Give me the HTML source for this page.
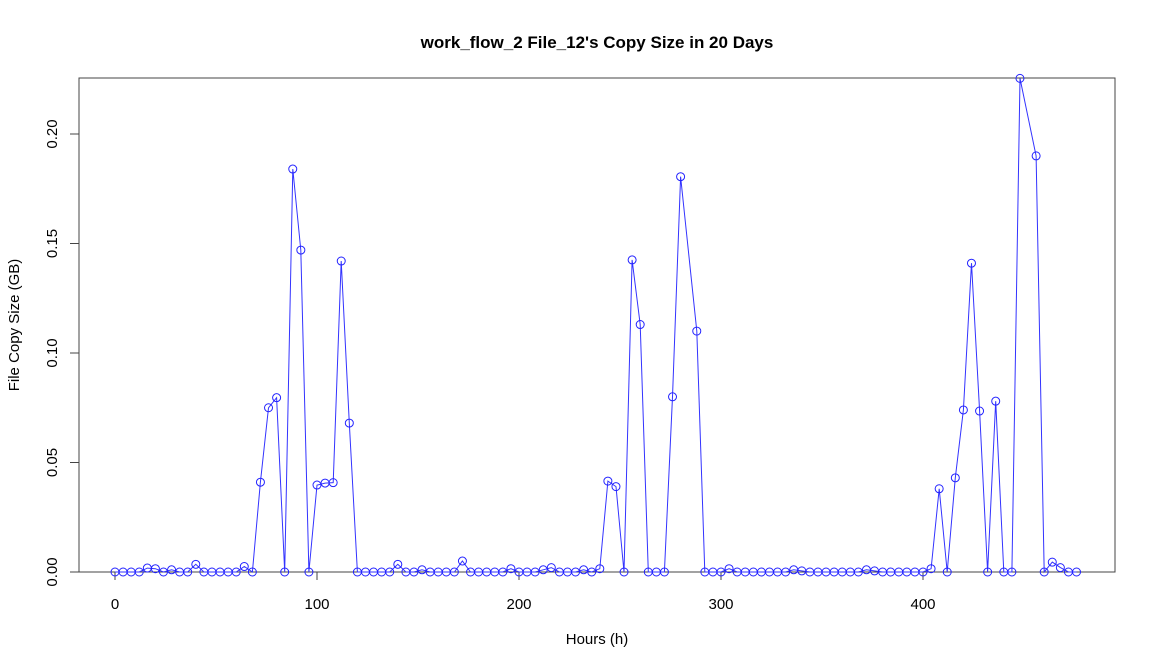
<!DOCTYPE html>
<html><head><meta charset="utf-8"><style>
body{margin:0;background:#fff}
svg{display:block;font-family:"Liberation Sans",Arial,sans-serif}
</style></head><body>
<svg id="chart" width="1156" height="670" xmlns="http://www.w3.org/2000/svg">
<text x="597" y="48" text-anchor="middle" font-size="17" font-weight="bold">work_flow_2 File_12's Copy Size in 20 Days</text>
<rect x="79" y="78" width="1036" height="494" fill="none" stroke="#444" stroke-width="1"/>
<text x="597" y="644" text-anchor="middle" font-size="15">Hours (h)</text>
<text transform="translate(19,325) rotate(-90)" text-anchor="middle" font-size="15">File Copy Size (GB)</text>
<g id="axes"></g>
<g id="series"></g>
</svg>
<script>
const hours = [0,4,8,12,16,20,24,28,32,36,40,44,48,52,56,60,64,68,72,76,80,84,88,92,96,100,104,108,112,116,120,124,128,132,136,140,144,148,152,156,160,164,168,172,176,180,184,188,192,196,200,204,208,212,216,220,224,228,232,236,240,244,248,252,256,260,264,268,272,276,280,288,292,296,300,304,308,312,316,320,324,328,332,336,340,344,348,352,356,360,364,368,372,376,380,384,388,392,396,400,404,408,412,416,420,424,428,432,436,440,444,448,456,460,464,468,472,476];
const sizes = [0,0,0,0,0.0018,0.0015,0,0.001,0,0,0.0035,0,0,0,0,0,0.0025,0,0.041,0.075,0.0796,0,0.184,0.147,0,0.0397,0.0406,0.0408,0.142,0.068,0,0,0,0,0,0.0035,0,0,0.001,0,0,0,0,0.005,0,0,0,0,0,0.0015,0,0,0,0.001,0.002,0,0,0,0.001,0,0.0015,0.0415,0.039,0,0.1425,0.113,0,0,0,0.080,0.1805,0.110,0,0,0,0.0015,0,0,0,0,0,0,0,0.001,0.0005,0,0,0,0,0,0,0,0.001,0.0005,0,0,0,0,0,0,0.0015,0.038,0,0.043,0.074,0.141,0.0735,0,0.078,0,0,0.2254,0.190,0,0.0045,0.002,0,0];
const xTicks = [0,100,200,300,400];
const yTicks = [0,0.05,0.10,0.15,0.20];
const yTickLabels = ["0.00","0.05","0.10","0.15","0.20"];

const NS="http://www.w3.org/2000/svg";
const xs = h => 115 + h*2.02;
const ys = v => 572 - v*2190;
function mk(tag, attrs, parent){const e=document.createElementNS(NS,tag);for(const k in attrs)e.setAttribute(k,attrs[k]);parent.appendChild(e);return e;}
const axes=document.getElementById('axes'), series=document.getElementById('series');
mk('line',{x1:xs(xTicks[0]),x2:xs(xTicks[xTicks.length-1]),y1:572,y2:572,stroke:'#444'},axes);
xTicks.forEach(t=>{
  const l=mk('line',{x1:xs(t),x2:xs(t),y1:572,y2:580,stroke:'#444'},axes);
  
  
  const tx=mk('text',{x:xs(t),y:609,'text-anchor':'middle','font-size':15},axes);
  tx.textContent=t;
  
  
});
yTicks.forEach((t,i)=>{
  const l=mk('line',{x1:70,x2:79,y1:ys(t),y2:ys(t),stroke:'#444'},axes);
  
  
  const tx=mk('text',{transform:`translate(57,${ys(t)}) rotate(-90)`,'text-anchor':'middle','font-size':15},axes);
  tx.textContent=yTickLabels[i];
  
  
});
const pts=hours.map((h,i)=>xs(h).toFixed(1)+','+ys(sizes[i]).toFixed(1)).join(' ');
const pl=mk('polyline',{points:pts,fill:'none',stroke:'#3333ff','stroke-width':1},series);


hours.forEach((h,i)=>{
  const c=mk('circle',{cx:xs(h),cy:ys(sizes[i]),r:4,fill:'none',stroke:'#2222ff','stroke-width':1},series);
  
  
});
</script>
</body></html>
